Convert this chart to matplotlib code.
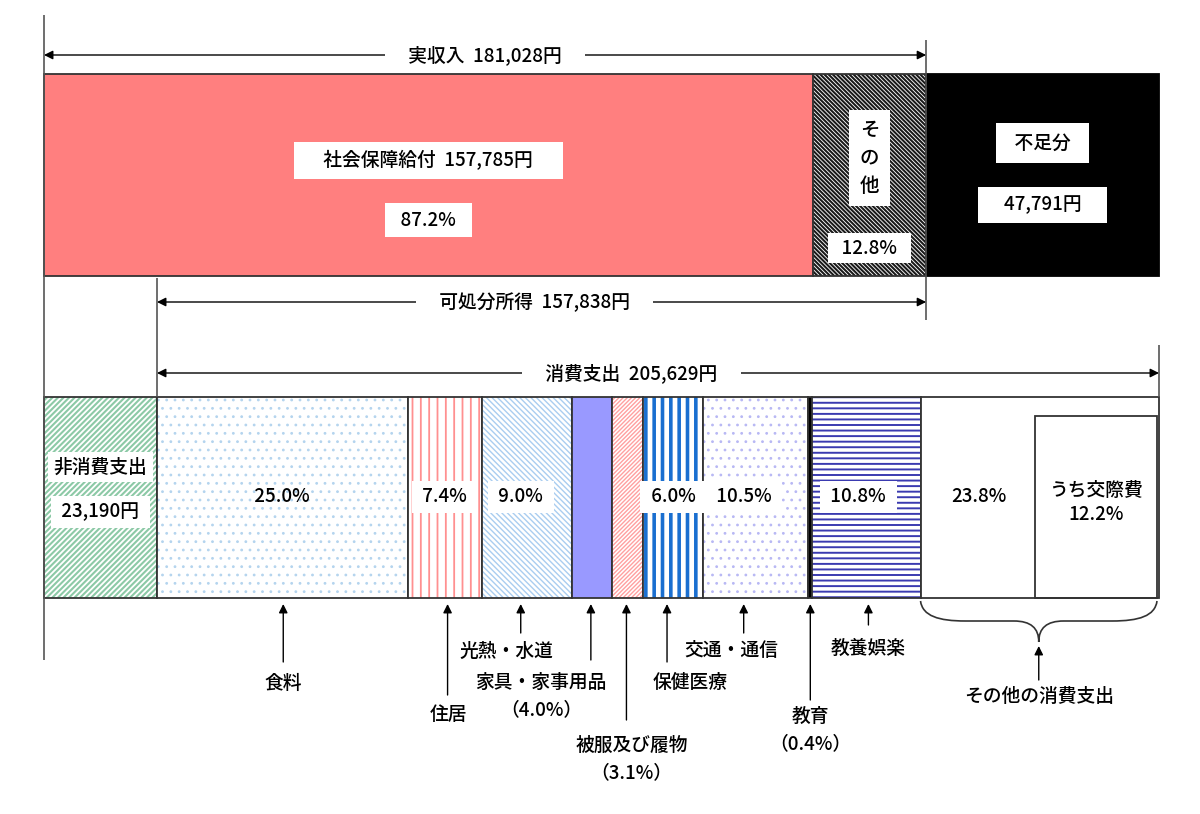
import matplotlib.pyplot as plt
from matplotlib.patches import Rectangle, PathPatch
from matplotlib.path import Path

plt.rcParams['font.family'] = ['Noto Sans CJK JP', 'DejaVu Sans']

# income side (yen)
social_security = 157785
real_income = 181028
other_income = real_income - social_security
shortfall = 47791
disposable = 157838

# expenditure side (yen)
non_consumption = 23190
consumption = 205629

cons_items = ['食料', '住居', '光熱・水道', '家具・家事用品', '被服及び履物',
              '保健医療', '交通・通信', '教育', '教養娯楽', 'その他の消費支出']
cons_pct = [25.0, 7.4, 9.0, 4.0, 3.1, 6.0, 10.5, 0.4, 10.8, 23.8]
kosai_pct = 12.2

# scale: yen per pixel so that both bars span the same width
total = real_income + shortfall
s = total / 1115.0


def X(px):
    return (px - 44) * s


fig = plt.figure(figsize=(12, 8.14), dpi=100)
ax = fig.add_axes([0, 0, 1, 1])
ax.set_xlim(X(0), X(1200))
ax.set_ylim(814, 0)
ax.axis('off')

FS = 13.5
FW = 'medium'


def seg(x, w, y0, y1, face, hatch=None, hc=None, hlw=1.0, ec='#333333', lw=1.3):
    ax.add_patch(Rectangle((x, y0), w, y1 - y0, facecolor=face, edgecolor='none', lw=0))
    if hatch:
        with plt.rc_context({'hatch.linewidth': hlw}):
            p = Rectangle((x, y0), w, y1 - y0, facecolor='none', edgecolor=hc,
                          hatch=hatch, lw=0)
            if hasattr(p, 'set_hatch_linewidth'):
                p.set_hatch_linewidth(hlw)
        ax.add_patch(p)
    ax.add_patch(Rectangle((x, y0), w, y1 - y0, fill=False, edgecolor=ec, lw=lw))


def label(x, y, t, fs=FS, pad=None, **kw):
    bb = None
    if pad is not None:
        bb = dict(facecolor='white', edgecolor='none', boxstyle=f'square,pad={pad}')
    ax.text(x, y, t, ha='center', va='center', fontsize=fs, fontweight=FW, bbox=bb, **kw)


# ---- top bar: income ----
T0, T1 = 74, 276
seg(0, social_security, T0, T1, '#ff7f7f')
seg(social_security, other_income, T0, T1, 'white', hatch='\\\\\\\\\\\\\\\\', hc='#1a1a1a', hlw=1.5)
seg(real_income, shortfall, T0, T1, 'black', ec='black')

label(social_security / 2, 160, '     社会保障給付  157,785円     ', pad=0.45)
label(social_security / 2, 220, '  87.2%  ', pad=0.4)
xo = social_security + other_income / 2
label(xo, 158, 'そ\nの\n他', fs=14, pad=0.55, linespacing=1.6)
label(xo, 248, '  12.8%  ', pad=0.3)
xs = real_income + shortfall / 2
label(xs, 143, '  不足分  ', pad=0.55)
label(xs, 205, '    47,791円    ', pad=0.45)

# ---- bottom bar: expenditure ----
B0, B1 = 397, 598
seg(0, non_consumption, B0, B1, 'white', hatch='//////', hc='#8cc9a6', hlw=1.5)
label(non_consumption / 2, 467, '非消費支出', pad=0.3)
label(non_consumption / 2, 512, ' 23,190円 ', pad=0.35)

styles = [
    dict(face='white', hatch='..', hc='#b4d4ee', hlw=0.8),
    dict(face='white', hatch='||', hc='#ff9090', hlw=1.3),
    dict(face='white', hatch='\\\\\\\\\\\\', hc='#a9cdf0', hlw=1.0),
    dict(face='#9999ff'),
    dict(face='white', hatch='////////', hc='#ffa0a0', hlw=1.0),
    dict(face='white', hatch='||', hc='#1a6fd0', hlw=2.6),
    dict(face='white', hatch='..', hc='#b8b8f4', hlw=0.8),
    dict(face='black'),
    dict(face='white', hatch='---', hc='#3a3ab0', hlw=1.4),
    dict(face='white'),
]

x = non_consumption
starts, widths = [], []
for pct, st in zip(cons_pct, styles):
    w = consumption * pct / 100
    seg(x, w, B0, B1, st['face'], st.get('hatch'), st.get('hc'), st.get('hlw', 1.0))
    starts.append(x)
    widths.append(w)
    x += w
centers = [a + w / 2 for a, w in zip(starts, widths)]

# box for 交際費 inside the "other" segment
kw_ = consumption * kosai_pct / 100
kx = non_consumption + consumption - kw_
ax.add_patch(Rectangle((kx - 2 * s, 416), kw_, B1 - 416, fill=False, edgecolor='#333333', lw=1.3))
label(kx + kw_ / 2 - 2 * s, 490, 'うち交際費')
label(kx + kw_ / 2 - 2 * s, 514, f'{kosai_pct}%')

# percentage labels in the bar
pct_dx = {0: 0, 1: 0, 2: -6, 5: 0, 6: -12, 8: -8}
for i, dx in pct_dx.items():
    label(centers[i] + dx * s, 497, f' {cons_pct[i]}% ', pad=None if i == 0 else 0.35)
label((starts[9] + kx) / 2, 497, f'{cons_pct[9]}%')

# ---- annotations below the bar ----
# (item index, arrow dx px, arrow tail y, label x offset px, label y, extra line)
notes = [
    (0, 1, 662, 1, 683, None),
    (1, 3, 695, 4, 714, None),
    (2, -6, 633, -20, 651, None),
    (3, -1, 660, -51, 682, '（4.0%）'),
    (4, -1, 720, 4, 745, '（3.1%）'),
    (5, -6, 662, 17, 682, None),
    (6, -12, 633, -24, 650, None),
    (7, 0, 700, 0, 716, '（0.4%）'),
    (8, 2, 625, 2, 648, None),
]
AP = dict(arrowstyle='-|>', color='black', lw=1.0, mutation_scale=13, shrinkA=0, shrinkB=0)
for i, adx, ty, ldx, ly, extra in notes:
    ax_ = centers[i] + adx * s
    ax.annotate('', xy=(ax_, 604), xytext=(ax_, ty), arrowprops=AP)
    lx = centers[i] + ldx * s
    label(lx, ly, cons_items[i])
    if extra:
        label(lx, ly + 28, extra)

# brace under "other consumption"
xl, xr = starts[9], starts[9] + widths[9] - 2 * s
xm = (xl + xr) / 2
verts = [
    (xl, 601), (xl + 2 * s, 616), (xl + 18 * s, 621), (xl + 45 * s, 621),
    (xm - 25 * s, 621),
    (xm - 8 * s, 621), (xm, 628), (xm, 642),
    (xm, 628), (xm + 8 * s, 621), (xm + 25 * s, 621),
    (xr - 45 * s, 621),
    (xr - 18 * s, 621), (xr - 2 * s, 616), (xr, 601),
]
codes = [Path.MOVETO, Path.CURVE4, Path.CURVE4, Path.CURVE4, Path.LINETO,
         Path.CURVE4, Path.CURVE4, Path.CURVE4, Path.CURVE4, Path.CURVE4, Path.CURVE4,
         Path.LINETO, Path.CURVE4, Path.CURVE4, Path.CURVE4]
ax.add_patch(PathPatch(Path(verts, codes), fill=False, edgecolor='#333333', lw=1.2))
ax.annotate('', xy=(xm, 646), xytext=(xm, 680), arrowprops=AP)
label(xm, 697, cons_items[9])

# ---- dimension lines ----
ax.vlines(0, 15, 660, color='#555555', lw=1.2)
ax.vlines(real_income, 40, 320, color='#555555', lw=1.2)
ax.vlines(non_consumption, 278, B0, color='#555555', lw=1.2)
ax.vlines(non_consumption + consumption, 345, B0, color='#555555', lw=1.2)

DIM = dict(arrowstyle='<|-|>', color='black', lw=1.0, mutation_scale=13, shrinkA=0, shrinkB=0)
dims = [
    (0, real_income, 55, f'実収入  {real_income:,}円', 0),
    (non_consumption, non_consumption + disposable, 302, f'可処分所得  {disposable:,}円', -7),
    (non_consumption, non_consumption + consumption, 373, f'消費支出  {consumption:,}円', -27),
]
for a, b, y, t, dx in dims:
    ax.annotate('', xy=(a, y), xytext=(b, y), arrowprops=DIM)
    label((a + b) / 2 + dx * s, y, '     ' + t + '     ', pad=0.12)

fig.savefig('out.png', dpi=100)
